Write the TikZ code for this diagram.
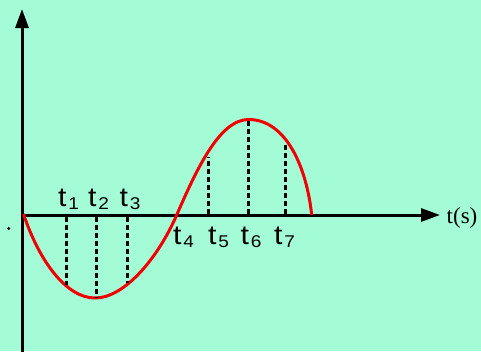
\documentclass[tikz,border=0pt]{standalone}
\usepackage{fontspec}
\setmainfont{Liberation Serif}
\newfontfamily\labfont{Liberation Sans}
\usetikzlibrary{arrows.meta}
\definecolor{bg}{RGB}{164,252,214}
\definecolor{curvered}{RGB}{240,0,0}
\newcommand\tsubx[1]{\hspace{1.5pt}\raisebox{-2.5pt}{\fontsize{17}{17}\selectfont #1}}
\begin{document}
\begin{tikzpicture}[x=1pt,y=-1pt,
  axis/.style={line width=3pt, -{Triangle[length=19pt,width=13pt]}},
  wave/.style={curvered, line width=3pt},
  drop/.style={line width=3pt, dash pattern=on 5pt off 3pt},
  tlab/.style={anchor=base west, inner sep=0pt, xscale=1.12, font=\labfont\fontsize{27}{27}\selectfont},
  ulab/.style={anchor=base west, inner sep=0pt, font=\fontsize{23}{23}\selectfont},
]
\fill[bg] (0,0) rectangle (481,351);
\useasboundingbox (0,0) rectangle (481,351);
% axes
\coordinate (ybot) at (22,352);
\coordinate (ytip) at (22,9);
\coordinate (xstart) at (20.5,215);
\coordinate (xtip) at (440,215);
\draw[axis] (ybot) -- (ytip);
\draw[axis] (xstart) -- (xtip);
% wave
\coordinate (z0) at (23.5,214);
\coordinate (pmin) at (95,298);
\coordinate (z1) at (176.7,215);
\coordinate (pmax) at (248.5,119.5);
\coordinate (z2) at (311.7,215);
\draw[wave] (z0) .. controls (39.2,261.2) and (66.4,298) .. (pmin)
  .. controls (124.6,298) and (158,258) .. (z1)
  .. controls (196.7,169) and (219.7,119.5) .. (pmax)
  .. controls (286.3,119.5) and (306.6,167.5) .. (z2);
% drop lines
\coordinate (a1) at (66.7,216.5); \coordinate (c1) at (66.7,285);
\coordinate (a2) at (96.7,216.5); \coordinate (c2) at (96.7,297.5);
\coordinate (a3) at (127,216.5);  \coordinate (c3) at (127,283);
\coordinate (a5) at (208.3,213.5); \coordinate (c5) at (208.3,157);
\coordinate (a6) at (248.5,213.5); \coordinate (c6) at (248.5,120);
\coordinate (a7) at (285,213.5);  \coordinate (c7) at (285,144);
\foreach \i in {1,2,3,5,6,7} \draw[drop] (a\i) -- (c\i);
% dot
\fill (8.7,228.5) circle (1.6pt);
% labels
\node[tlab] (t1) at (58,206.5) {t\tsubx{1}};
\node[tlab] (t2) at (88,206.5) {t\tsubx{2}};
\node[tlab] (t3) at (119.5,206.5) {t\tsubx{3}};
\node[tlab] (t4) at (173,244.5) {t\tsubx{4}};
\node[tlab] (t5) at (208,244.5) {t\tsubx{5}};
\node[tlab] (t6) at (240.5,244.5) {t\tsubx{6}};
\node[tlab] (t7) at (274,244.5) {t\tsubx{7}};
\node[ulab] (ts) at (446.5,223) {t(s)};
\end{tikzpicture}
\end{document}
